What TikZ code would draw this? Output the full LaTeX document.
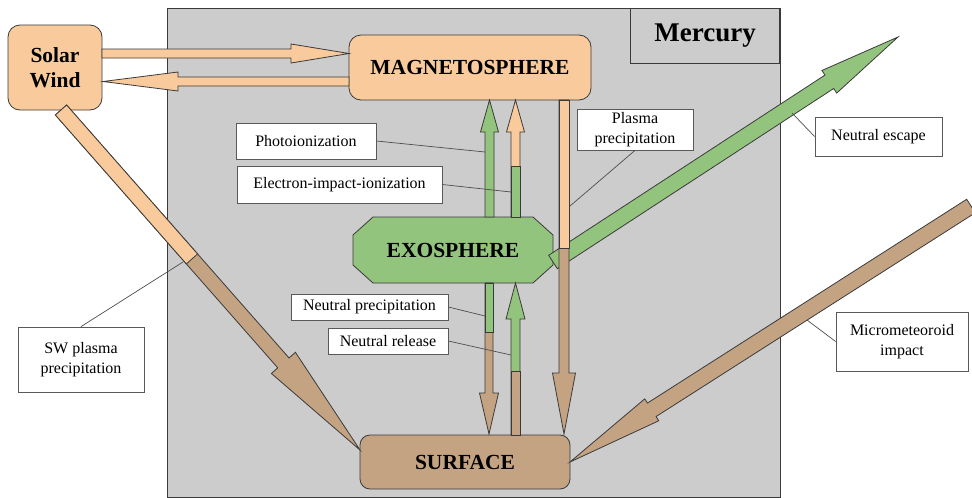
\documentclass[tikz,border=0pt]{standalone}
\usepackage{fontspec}
\setmainfont{Liberation Serif}
\newfontfamily\tnr{Liberation Serif}
\usetikzlibrary{calc}
\definecolor{peach}{HTML}{F9CB9C}
\definecolor{leaf}{HTML}{93C47D}
\definecolor{soil}{HTML}{C4A383}
\definecolor{merc}{HTML}{CCCCCC}
\definecolor{edgec}{HTML}{3A3A3A}
\definecolor{lblc}{HTML}{595959}
% block arrow: #1 fill, #2 start, #3 tip, #4 shaft half width, #5 head half width, #6 head length
\newcommand\blockarr[6]{%
  \coordinate (hb) at ($(#3)!#6!(#2)$);
  \draw[arr, fill=#1] ($(#2)!#4!90:(#3)$) -- ($(hb)!#4!90:(#3)$) -- ($(hb)!#5!90:(#3)$) -- (#3)
     -- ($(hb)!#5!-90:(#3)$) -- ($(hb)!#4!-90:(#3)$) -- ($(#2)!#4!-90:(#3)$) -- cycle;}
% shaft segment: #1 fill, #2 start, #3 split, #4 tip (direction), #5 half width
\newcommand\shaftpart[5]{%
  \draw[arr, fill=#1] ($(#2)!#5!90:(#4)$) -- ($(#3)!#5!90:(#4)$) -- ($(#3)!#5!-90:(#4)$)
     -- ($(#2)!#5!-90:(#4)$) -- cycle;}
\begin{document}
\begin{tikzpicture}[x=1pt,y=-1pt,
  arr/.style={draw=edgec, line width=0.8pt, line join=miter},
  bigbox/.style={draw=edgec, line width=0.8pt, align=center, inner sep=0pt,
     font=\tnr\fontsize{21.5}{25}\selectfont\bfseries},
  lbl/.style={draw=lblc, fill=white, line width=0.8pt, align=center, inner sep=0pt,
     font=\tnr\fontsize{16}{20}\selectfont},
  leader/.style={draw=edgec!90, line width=0.7pt}]
\useasboundingbox (0,0) rectangle (972,498);

% Mercury frame
\node[draw=edgec, fill=merc, line width=0.8pt, minimum width=613, minimum height=489,
      anchor=north west, inner sep=0pt] (mercury) at (167,8) {};
\node[draw=edgec, fill=merc, line width=0.8pt, minimum width=149, minimum height=55,
      anchor=north east, inner sep=0pt, font=\tnr\fontsize{27}{30}\selectfont\bfseries] (mlabel) at (780,8) {Mercury};

% main nodes
\node[bigbox, fill=peach, minimum width=94, minimum height=85, rounded corners=12pt] (sw) at (55,67.5) {Solar\\Wind};
\node[bigbox, fill=peach, minimum width=242, minimum height=65, rounded corners=12pt] (mag) at (470,67.5) {MAGNETOSPHERE};
\node[bigbox, fill=soil, minimum width=210, minimum height=54, rounded corners=10pt] (surf) at (465,462) {SURFACE};
% exosphere: chamfered octagon
\draw[arr, fill=leaf] (353,235) -- (373,217) -- (533,217) -- (553,235) -- (553,265) -- (533,283) -- (373,283) -- (353,265) -- cycle;
\node[bigbox, draw=none, minimum width=200, minimum height=66] (exo) at (453,250) {EXOSPHERE};

% arrow end points
\coordinate (a1s) at (102,53.5);   \coordinate (a1t) at (349,53.5);
\coordinate (a2s) at (349,81.5);   \coordinate (a2t) at (103,81.5);
\coordinate (a3s) at (61,110);     \coordinate (a3t) at (360,450);
\coordinate (a3m) at ($(a3s)!0.438!(a3t)$);
\coordinate (a4s) at (489.5,217);  \coordinate (a4t) at (489.5,100);
\coordinate (a5s) at (515.5,217);  \coordinate (a5t) at (515.5,100); \coordinate (a5m) at (515.5,166);
\coordinate (a6s) at (564,100);    \coordinate (a6t) at (564,434);   \coordinate (a6m) at (564,248);
\coordinate (a7s) at (489,283);    \coordinate (a7t) at (489,434);   \coordinate (a7m) at (489,332);
\coordinate (a8s) at (515.5,435);  \coordinate (a8t) at (515.5,283); \coordinate (a8m) at (515.5,371);
\coordinate (a9s) at (553,262);    \coordinate (a9t) at (898,37);
\coordinate (a10s) at (971,206);   \coordinate (a10t) at (570,462);

% arrows
\blockarr{peach}{a1s}{a1t}{4.5pt}{9.5pt}{58pt}
\blockarr{peach}{a2s}{a2t}{4.5pt}{9.5pt}{75pt}
\blockarr{soil}{a3s}{a3t}{7.5pt}{16pt}{116pt}
\shaftpart{peach}{a3s}{a3m}{a3t}{7.5pt}
\blockarr{leaf}{a4s}{a4t}{4.5pt}{9pt}{32pt}
\blockarr{peach}{a5s}{a5t}{4.5pt}{9pt}{32pt}
\shaftpart{leaf}{a5s}{a5m}{a5t}{4.5pt}
\blockarr{leaf}{a9s}{a9t}{8pt}{13.5pt}{82pt}
\blockarr{soil}{a6s}{a6t}{5pt}{11.5pt}{61pt}
\shaftpart{peach}{a6s}{a6m}{a6t}{5pt}
\blockarr{soil}{a7s}{a7t}{4pt}{9.5pt}{41pt}
\shaftpart{leaf}{a7s}{a7m}{a7t}{4pt}
\blockarr{leaf}{a8s}{a8t}{4.5pt}{9.5pt}{36pt}
\shaftpart{soil}{a8s}{a8m}{a8t}{4.5pt}
\blockarr{soil}{a10s}{a10t}{8pt}{13pt}{97pt}

% labels
\node[lbl, minimum width=140, minimum height=36] (pho) at (306,141) {Photoionization};
\node[lbl, minimum width=205, minimum height=37] (eii) at (339.5,184.5) {Electron-impact-ionization};
\node[lbl, minimum width=116, minimum height=41] (pp) at (635,129.5) {Plasma\\precipitation};
\node[lbl, minimum width=127, minimum height=39] (ne) at (878.5,136.5) {Neutral escape};
\node[lbl, minimum width=132, minimum height=59] (mi) at (902,341.5) {Micrometeoroid\\impact};
\node[lbl, minimum width=126, minimum height=65] (swp) at (81,359.5) {SW plasma\\precipitation};
\node[lbl, minimum width=157, minimum height=26] (np) at (369.5,307) {Neutral precipitation};
\node[lbl, minimum width=120, minimum height=26] (nr) at (388,341) {Neutral release};

% leader targets
\coordinate (l1) at (485,152);
\coordinate (l2) at (511,192);
\coordinate (l3) at (570,206);
\coordinate (l4) at (792,113);
\coordinate (l5) at (807,320);
\coordinate (l6) at (183,262);
\coordinate (l7) at (485,316);
\coordinate (l8) at (511,355);

\draw[leader] (pho.east) -- (l1);
\draw[leader] (eii.east) -- (l2);
\draw[leader] (pp.south) -- (l3);
\draw[leader] (ne.west) -- (l4);
\draw[leader] (mi.west) -- (l5);
\draw[leader] (swp.north) -- (l6);
\draw[leader] (np.east) -- (l7);
\draw[leader] (nr.east) -- (l8);
\end{tikzpicture}
\end{document}
